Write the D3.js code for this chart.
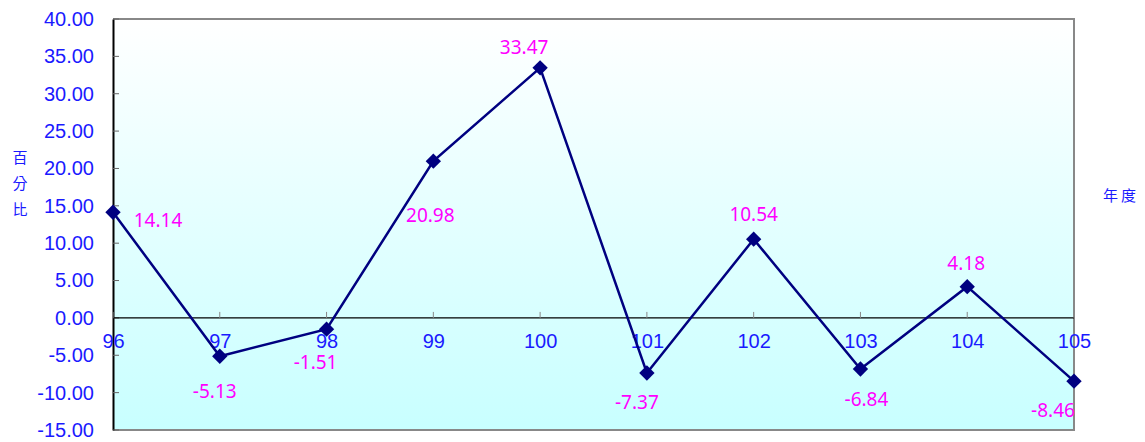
<!DOCTYPE html>
<html><head><meta charset="utf-8">
<script src="https://cdn.jsdelivr.net/npm/d3@7"></script>
<style>body{margin:0;background:#fff}svg{display:block}</style>
</head><body>
<svg id="c" width="1145" height="442"></svg>
<script>
const categories = ["96","97","98","99","100","101","102","103","104","105"];
const values = [14.14,-5.13,-1.51,20.98,33.47,-7.37,10.54,-6.84,4.18,-8.46];
const yTicks = [40,35,30,25,20,15,10,5,0,-5,-10,-15];
// label offsets (dx, dy) relative to each point
const labelDx = [45,-5,-11,-3,-16,-10,0,6,-1,-21];
const labelDy = [8,35,33,54,-21,29,-25,30,-24,29];

const fmt = v => v.toFixed(2); // keeps ASCII hyphen-minus

const svg = d3.select("#c");
const L=113, R=1074, T=19, B=430;
const x = d3.scalePoint().domain(categories).range([L, R]);
const y = d3.scaleLinear().domain([-15,40]).range([B, T]);

const defs = svg.append("defs");
const g = defs.append("linearGradient").attr("id","bg").attr("x1",0).attr("y1",0).attr("x2",0).attr("y2",1);
g.append("stop").attr("offset","0%").attr("stop-color","#ffffff");
g.append("stop").attr("offset","100%").attr("stop-color","#c8ffff");

svg.append("rect").attr("x",L).attr("y",T).attr("width",R-L).attr("height",B-T).attr("fill","url(#bg)");
svg.append("path").attr("d",`M${L},${T}H${R}V${B}H${L}`).attr("fill","none").attr("stroke","#888").attr("stroke-width",2);

// y axis
const yAxis = d3.axisLeft(y).tickValues(yTicks).tickFormat(fmt).tickSize(0).tickPadding(19);
const ya = svg.append("g").attr("transform",`translate(${L},0)`).call(yAxis);
ya.select(".domain").attr("stroke","#000").attr("stroke-width",2);
ya.selectAll("text").attr("fill","#1a1aff").style("font-family","Liberation Sans, Arial, sans-serif").style("font-size","20px");
svg.append("g").selectAll("line").data(yTicks).join("line")
  .attr("x1",L).attr("x2",L+6).attr("y1",d=>y(d)).attr("y2",d=>y(d)).attr("stroke","#666").attr("stroke-width",1);

// zero line with small upward category ticks
svg.append("line").attr("x1",L).attr("x2",R).attr("y1",y(0)).attr("y2",y(0)).attr("stroke","#000").attr("stroke-width",1.2);
svg.append("g").selectAll("line").data(categories).join("line")
  .attr("x1",d=>x(d)).attr("x2",d=>x(d)).attr("y1",y(0)).attr("y2",y(0)-6).attr("stroke","#888").attr("stroke-width",1);

// x axis labels at zero
const xAxis = d3.axisBottom(x).tickSize(0).tickPadding(16);
const xa = svg.append("g").attr("transform",`translate(0,${y(0)})`).call(xAxis);
xa.select(".domain").remove();
xa.selectAll("text").attr("fill","#1a1aff").style("font-family","Liberation Sans, Arial, sans-serif").style("font-size","20px");

// line
const data = categories.map((c,i)=>({c, v:values[i], i}));
svg.append("path").datum(data).attr("fill","none").attr("stroke","#000080").attr("stroke-width",2.5)
  .attr("d", d3.line().x(d=>x(d.c)).y(d=>y(d.v)));
svg.append("g").selectAll("path").data(data).join("path")
  .attr("transform",d=>`translate(${x(d.c)},${y(d.v)})`)
  .attr("d", d3.symbol(d3.symbolDiamond2, 150)).attr("fill","#000080");

// data labels
svg.append("g").selectAll("text").data(data).join("text")
  .attr("x",d=>x(d.c)+labelDx[d.i]).attr("y",d=>y(d.v)+labelDy[d.i])
  .attr("text-anchor","middle").attr("dominant-baseline","central")
  .attr("fill","#ff00ff").style("font-family","Noto Sans, DejaVu Sans, sans-serif").style("font-size","19px")
  .text(d=>fmt(d.v));

// axis titles
const yt = ["百","分","比"];
svg.append("g").selectAll("text").data(yt).join("text")
  .attr("x",20).attr("y",(d,i)=>156+i*26).attr("text-anchor","middle").attr("dominant-baseline","central")
  .attr("fill","#1a1aff").style("font-family","Noto Sans CJK TC, sans-serif").style("font-size","15px").text(d=>d);
svg.append("text").attr("x",1121).attr("y",194).attr("text-anchor","middle").attr("dominant-baseline","central")
  .attr("fill","#1a1aff").style("font-family","Noto Sans CJK TC, sans-serif").style("font-size","15px").attr("letter-spacing","3px").text("年度");
</script>
</body></html>
